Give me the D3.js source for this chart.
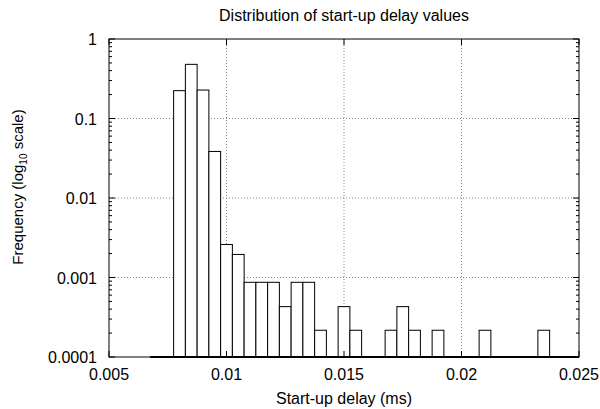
<!DOCTYPE html>
<html>
<head>
<meta charset="utf-8">
<script src="https://cdn.jsdelivr.net/npm/d3@7"></script>
<style>
    body { margin: 0; background: #fff; }
    text { font-family: "Liberation Sans", Arial, sans-serif; fill: #000; }
</style>
</head>
<body>
<div id="chart"></div>
<script>
// Histogram data (bin centres in ms, relative frequency)
const delays = [0.008, 0.0085, 0.009, 0.0095, 0.010, 0.0105, 0.011, 0.0115, 0.012, 0.0125,
    0.013, 0.0135, 0.014, 0.015, 0.0155, 0.017, 0.0175, 0.018, 0.019, 0.021, 0.0235];
const frequencies = [0.224, 0.48, 0.228, 0.0385, 0.0026, 0.00195, 0.00087, 0.00087, 0.00087, 0.00043,
    0.00087, 0.00087, 0.000217, 0.00043, 0.000217, 0.000217, 0.00043, 0.000217, 0.000217, 0.000217, 0.000217];
const binWidth = 0.0005;
const histStart = 0.00675;   // first (empty) bin edge of the histogram

const xTicks = [0.005, 0.01, 0.015, 0.02, 0.025];
const yTicks = [0.0001, 0.001, 0.01, 0.1, 1];
const xTickLabels = ["0.005", "0.01", "0.015", "0.02", "0.025"];
const yTickLabels = ["0.0001", "0.001", "0.01", "0.1", "1"];

const width = 600, height = 409;
const margin = { top: 39, right: 21, bottom: 52, left: 109 };
const innerW = width - margin.left - margin.right;
const innerH = height - margin.top - margin.bottom;

const svg = d3.select("#chart").append("svg")
    .attr("width", width)
    .attr("height", height);

const g = svg.append("g").attr("transform", `translate(${margin.left},${margin.top})`);

const x = d3.scaleLinear().domain([0.005, 0.025]).range([0, innerW]);
const y = d3.scaleLog().domain([0.0001, 1]).range([innerH, 0]);

// dotted grid lines
g.append("g").selectAll("line")
    .data(xTicks.slice(1, -1))
    .enter().append("line")
    .attr("x1", d => x(d)).attr("x2", d => x(d))
    .attr("y1", 0).attr("y2", innerH)
    .attr("stroke", "#888").attr("stroke-dasharray", "1,2");

g.append("g").selectAll("line")
    .data(yTicks.slice(1, -1))
    .enter().append("line")
    .attr("y1", d => y(d)).attr("y2", d => y(d))
    .attr("x1", 0).attr("x2", innerW)
    .attr("stroke", "#888").attr("stroke-dasharray", "1,2");

// bars
g.append("g").selectAll("rect")
    .data(delays)
    .enter().append("rect")
    .attr("x", d => x(d - binWidth / 2))
    .attr("width", x(binWidth) - x(0))
    .attr("y", (d, i) => y(frequencies[i]))
    .attr("height", (d, i) => innerH - y(frequencies[i]))
    .attr("fill", "#fff")
    .attr("stroke", "#000")
    .attr("stroke-width", 1);

// histogram baseline
g.append("line")
    .attr("x1", x(histStart)).attr("x2", innerW)
    .attr("y1", innerH).attr("y2", innerH)
    .attr("stroke", "#000").attr("stroke-width", 2);

// log minor ticks
const minorTicks = y.ticks().filter(d => !yTicks.includes(d));

const ticks = g.append("g").attr("stroke", "#000");
[0, innerW].forEach((x0, side) => {
    const dir = side === 0 ? 1 : -1;
    ticks.selectAll(null).data(minorTicks).enter().append("line")
        .attr("x1", x0).attr("x2", x0 + dir * 3)
        .attr("y1", d => y(d)).attr("y2", d => y(d));
    ticks.selectAll(null).data(yTicks).enter().append("line")
        .attr("x1", x0).attr("x2", x0 + dir * 6)
        .attr("y1", d => y(d)).attr("y2", d => y(d));
});
[0, innerH].forEach((y0, side) => {
    const dir = side === 0 ? 1 : -1;
    ticks.selectAll(null).data(xTicks).enter().append("line")
        .attr("y1", y0).attr("y2", y0 + dir * 6)
        .attr("x1", d => x(d)).attr("x2", d => x(d));
});

// frame
g.append("rect")
    .attr("width", innerW).attr("height", innerH)
    .attr("fill", "none").attr("stroke", "#000");

// tick labels
g.append("g").selectAll("text")
    .data(xTicks)
    .enter().append("text")
    .attr("x", d => x(d))
    .attr("y", innerH + 23)
    .attr("text-anchor", "middle")
    .style("font-size", "16px")
    .text((d, i) => xTickLabels[i]);

g.append("g").selectAll("text")
    .data(yTicks)
    .enter().append("text")
    .attr("x", -12)
    .attr("y", d => y(d) + 6)
    .attr("text-anchor", "end")
    .style("font-size", "16px")
    .text((d, i) => yTickLabels[i]);

// title and axis labels
svg.append("text")
    .attr("x", margin.left + innerW / 2)
    .attr("y", 21)
    .attr("text-anchor", "middle")
    .style("font-size", "16px")
    .text("Distribution of start-up delay values");

svg.append("text")
    .attr("x", margin.left + innerW / 2)
    .attr("y", 404)
    .attr("text-anchor", "middle")
    .style("font-size", "16px")
    .text("Start-up delay (ms)");

const yLabel = svg.append("text")
    .attr("transform", `translate(23,187) rotate(-90)`)
    .attr("text-anchor", "middle")
    .style("font-size", "15px");
yLabel.append("tspan").text("Frequency (log");
yLabel.append("tspan").attr("dy", 4).style("font-size", "10px").text("10");
yLabel.append("tspan").attr("dy", -4).text(" scale)");
</script>
</body>
</html>
